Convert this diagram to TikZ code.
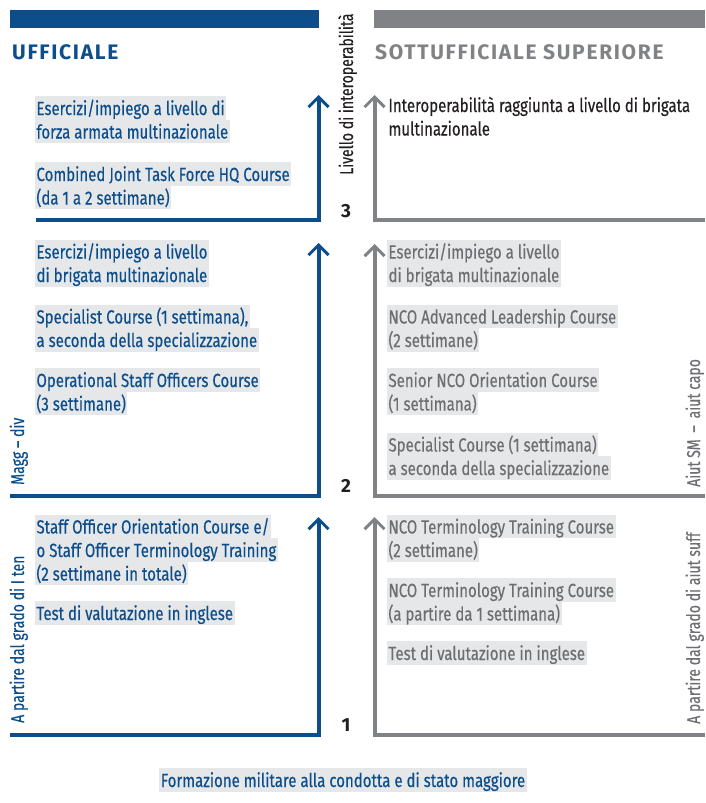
\documentclass[tikz,border=0pt]{standalone}
\usepackage{fontspec}
\setmainfont{Fira Sans}[FakeStretch=0.79, FakeBold=0.35]
\newfontfamily\sidefont{Fira Sans}[FakeStretch=0.76, FakeBold=0.3]
\newfontfamily\headfont{Fira Sans}[LetterSpace=8]
\usetikzlibrary{arrows.meta}
\definecolor{blu}{RGB}{12,78,140}
\definecolor{gry}{RGB}{128,130,133}
\definecolor{gtxt}{RGB}{109,110,113}
\definecolor{hl}{RGB}{230,231,232}
\definecolor{ink}{RGB}{35,31,32}
\tikzset{
  ln/.style={anchor=base west, fill=hl, inner xsep=1.5pt, inner ysep=0pt, outer sep=0pt,
    text height=19pt, text depth=4.5pt, font=\fontsize{19}{23}\selectfont},
  lu/.style={ln, text=blu},
  ls/.style={ln, text=gtxt},
  side/.style={rotate=90, anchor=base west, inner sep=0pt, font=\sidefont\fontsize{18.5}{22}\selectfont},
  lvl/.style={anchor=base, inner sep=0pt, text=ink, font=\headfont\bfseries\fontsize{19}{23}\selectfont},
  head/.style={anchor=base west, inner sep=0pt, font=\headfont\bfseries\fontsize{21}{25}\selectfont},
  bar/.style={line width=4pt},
  tip/.style={-{Straight Barb[length=10pt,width=20pt,line width=3pt]}},
}
\begin{document}
\begin{tikzpicture}[x=1pt,y=-1pt]
  \useasboundingbox (0,0) rectangle (705,803);
  % headings
  \fill[blu] (10,10) rectangle (319,28);
  \fill[gry] (374,10) rectangle (705,28);
  \node[head, text=blu] (uff) at (12,59) {UFFICIALE};
  \node[head, text=gry] (sott) at (375,59) {SOTTUFFICIALE SUPERIORE};

  % level steps
  \coordinate (u3l) at (36,220);   \coordinate (u3k) at (318.5,220); \coordinate (u3t) at (318.5,95);
  \coordinate (s3r) at (705,220);  \coordinate (s3k) at (374.5,220); \coordinate (s3t) at (374.5,95);
  \coordinate (u2l) at (10,495.5); \coordinate (u2k) at (318.5,495.5); \coordinate (u2t) at (318.5,243);
  \coordinate (s2r) at (705,495.5); \coordinate (s2k) at (374.5,495.5); \coordinate (s2t) at (374.5,244);
  \coordinate (u1l) at (10,735);   \coordinate (u1k) at (318.5,735); \coordinate (u1t) at (318.5,517);
  \coordinate (s1r) at (705,735);  \coordinate (s1k) at (374.5,735); \coordinate (s1t) at (374.5,517);
  \begin{scope}[bar, tip]
    \draw[blu] (u3l) -- (u3k) -- (u3t);
    \draw[gry] (s3r) -- (s3k) -- (s3t);
    \draw[blu] (u2l) -- (u2k) -- (u2t);
    \draw[gry] (s2r) -- (s2k) -- (s2t);
    \draw[blu] (u1l) -- (u1k) -- (u1t);
    \draw[gry] (s1r) -- (s1k) -- (s1t);
  \end{scope}

  \node[lvl] (n3) at (346,217) {3};
  \node[lvl] (n2) at (346,492) {2};
  \node[lvl] (n1) at (346,731) {1};

  \node[side, text=ink] (inter) at (353,175) {Livello di interoperabilità};
  \node[side, text=blu] (magg) at (24,485) {Magg – div};
  \node[side, text=blu] (ten) at (24,723) {A partire dal grado di I ten};
  \node[side, text=gtxt] (aiut) at (700,487) {Aiut SM \,–\, aiut capo};
  \node[side, text=gtxt] (suff) at (700,724) {A partire dal grado di aiut suff};

  % level 3
  \node[lu] (tu3a) at (35,115) {Esercizi/impiego a livello di};
  \node[lu] (tu3b) at (35,138.5) {forza armata multinazionale};
  \node[lu] (tu3c) at (35,181) {Combined Joint Task Force HQ Course};
  \node[lu] (tu3d) at (35,204.5) {(da 1 a 2 settimane)};
  \node[ln, fill=none, text=ink] (ts3a) at (387,112) {Interoperabilità raggiunta a livello di brigata};
  \node[ln, fill=none, text=ink] (ts3b) at (387,135.5) {multinazionale};

  % level 2
  \node[lu] (tu2a) at (35,258.5) {Esercizi/impiego a livello};
  \node[lu] (tu2b) at (35,282) {di brigata multinazionale};
  \node[lu] (tu2c) at (35,323.5) {Specialist Course (1 settimana),};
  \node[lu] (tu2d) at (35,347) {a seconda della specializzazione};
  \node[lu] (tu2e) at (35,387) {Operational Staff Officers Course};
  \node[lu] (tu2f) at (35,410.5) {(3 settimane)};
  \node[ls] (ts2a) at (387,258.5) {Esercizi/impiego a livello};
  \node[ls] (ts2b) at (387,282) {di brigata multinazionale};
  \node[ls] (ts2c) at (387,323.5) {NCO Advanced Leadership Course};
  \node[ls] (ts2d) at (387,347) {(2 settimane)};
  \node[ls] (ts2e) at (387,387) {Senior NCO Orientation Course};
  \node[ls] (ts2f) at (387,410.5) {(1 settimana)};
  \node[ls] (ts2g) at (387,451.5) {Specialist Course (1 settimana)};
  \node[ls] (ts2h) at (387,475) {a seconda della specializzazione};

  % level 1
  \node[lu] (tu1a) at (35,533.5) {Staff Officer Orientation Course e/};
  \node[lu] (tu1b) at (35,557) {o Staff Officer Terminology Training};
  \node[lu] (tu1c) at (35,580.5) {(2 settimane in totale)};
  \node[lu] (tu1d) at (35,620) {Test di valutazione in inglese};
  \node[ls] (ts1a) at (387,533.5) {NCO Terminology Training Course};
  \node[ls] (ts1b) at (387,557) {(2 settimane)};
  \node[ls] (ts1c) at (387,597) {NCO Terminology Training Course};
  \node[ls] (ts1d) at (387,620.5) {(a partire da 1 settimana)};
  \node[ls] (ts1e) at (387,660) {Test di valutazione in inglese};

  \node[lu, anchor=base] (form) at (343,787) {Formazione militare alla condotta e di stato maggiore};
\end{tikzpicture}
\end{document}
